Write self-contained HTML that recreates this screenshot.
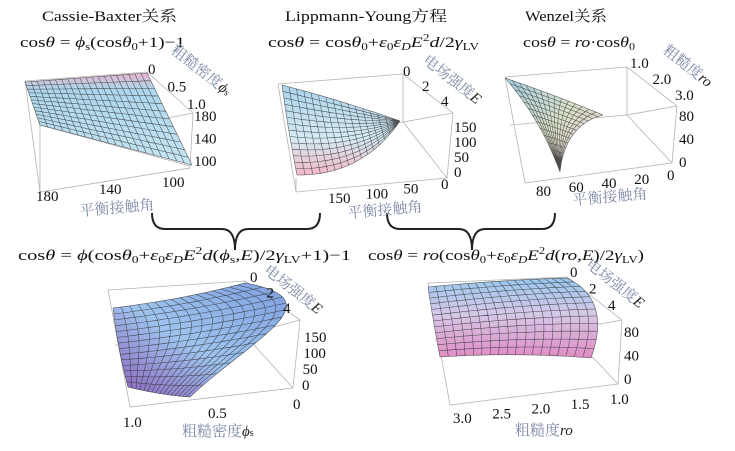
<!DOCTYPE html>
<html><head><meta charset="utf-8"><style>
html,body{margin:0;padding:0;background:#fff;}
svg{display:block;}
.t{font-family:"Liberation Serif","Noto Serif CJK SC",serif;fill:#111;}
.tk{font-family:"Liberation Serif",serif;font-size:15px;fill:#111;}
.al{font-family:"Liberation Serif","Noto Serif CJK SC",serif;font-size:15px;fill:#7d8aa6;}
.box{stroke:#b4b4b4;stroke-width:0.8;fill:none;}
.grid{stroke:#2a2a2a;stroke-width:0.55;fill:none;opacity:0.8;}
</style></head><body>
<svg id="fig" width="735" height="451" viewBox="0 0 735 451">
<defs>
<linearGradient id="g1" x1="0" y1="0" x2="0" y2="1"><stop offset="0" stop-color="#e8b4d0"/><stop offset="0.18" stop-color="#add6ec"/><stop offset="1" stop-color="#c6e6f4"/></linearGradient>
<linearGradient id="g2" x1="0" y1="0" x2="0" y2="1"><stop offset="0" stop-color="#a9d3ea"/><stop offset="0.6" stop-color="#d6ebf4"/><stop offset="1" stop-color="#f2b8c8"/></linearGradient>
<linearGradient id="g3" x1="0" y1="0" x2="1" y2="1"><stop offset="0" stop-color="#a4cfe6"/><stop offset="0.5" stop-color="#d8e0c8"/><stop offset="1" stop-color="#f0c4d4"/></linearGradient>
<linearGradient id="g4" x1="1" y1="0" x2="0" y2="1"><stop offset="0" stop-color="#7f9fe0"/><stop offset="0.55" stop-color="#9ec4ee"/><stop offset="1" stop-color="#8a5cb8"/></linearGradient>
<linearGradient id="g5" x1="0" y1="0" x2="0" y2="1"><stop offset="0" stop-color="#98c8ee"/><stop offset="0.45" stop-color="#d6c8e8"/><stop offset="1" stop-color="#e08cc4"/></linearGradient>
</defs>

<text class="t" x="42" y="21" font-size="15" textLength="135" lengthAdjust="spacingAndGlyphs">Cassie-Baxter关系</text>
<text class="t" x="285" y="21" font-size="15" textLength="162" lengthAdjust="spacingAndGlyphs">Lippmann-Young方程</text>
<text class="t" x="525" y="21" font-size="15" textLength="82" lengthAdjust="spacingAndGlyphs">Wenzel关系</text>

<text class="t" x="20" y="47" font-size="15" textLength="165" lengthAdjust="spacingAndGlyphs">cos<tspan font-style="italic">θ</tspan> = <tspan font-style="italic">ϕ</tspan><tspan font-size="10" dy="3">s</tspan><tspan dy="-3">(cos</tspan><tspan font-style="italic">θ</tspan><tspan font-size="10" dy="3">0</tspan><tspan dy="-3">+1)−1</tspan></text>
<text class="t" x="268" y="47" font-size="15" textLength="211" lengthAdjust="spacingAndGlyphs">cos<tspan font-style="italic">θ</tspan> = cos<tspan font-style="italic">θ</tspan><tspan font-size="10" dy="3">0</tspan><tspan dy="-3">+</tspan><tspan font-style="italic">ε</tspan><tspan font-size="10" dy="3">0</tspan><tspan dy="-3" font-style="italic">ε</tspan><tspan font-size="10" dy="3" font-style="italic">D</tspan><tspan dy="-3" font-style="italic">E</tspan><tspan font-size="10" dy="-6">2</tspan><tspan dy="6" font-style="italic">d</tspan>/2<tspan font-style="italic">γ</tspan><tspan font-size="10" dy="3">LV</tspan></text>
<text class="t" x="523" y="47" font-size="15" textLength="112" lengthAdjust="spacingAndGlyphs">cos<tspan font-style="italic">θ</tspan> = <tspan font-style="italic">ro</tspan>·cos<tspan font-style="italic">θ</tspan><tspan font-size="10" dy="3">0</tspan></text>
<text class="t" x="18" y="260" font-size="15" textLength="333" lengthAdjust="spacingAndGlyphs">cos<tspan font-style="italic">θ</tspan> = <tspan font-style="italic">ϕ</tspan>(cos<tspan font-style="italic">θ</tspan><tspan font-size="10" dy="3">0</tspan><tspan dy="-3">+</tspan><tspan font-style="italic">ε</tspan><tspan font-size="10" dy="3">0</tspan><tspan dy="-3" font-style="italic">ε</tspan><tspan font-size="10" dy="3" font-style="italic">D</tspan><tspan dy="-3" font-style="italic">E</tspan><tspan font-size="10" dy="-6">2</tspan><tspan dy="6" font-style="italic">d</tspan>(<tspan font-style="italic">ϕ</tspan><tspan font-size="10" dy="3">s</tspan><tspan dy="-3">,</tspan><tspan font-style="italic">E</tspan>)/2<tspan font-style="italic">γ</tspan><tspan font-size="10" dy="3">LV</tspan><tspan dy="-3">+1)−1</tspan></text>
<text class="t" x="368" y="260" font-size="15" textLength="276" lengthAdjust="spacingAndGlyphs">cos<tspan font-style="italic">θ</tspan> = <tspan font-style="italic">ro</tspan>(cos<tspan font-style="italic">θ</tspan><tspan font-size="10" dy="3">0</tspan><tspan dy="-3">+</tspan><tspan font-style="italic">ε</tspan><tspan font-size="10" dy="3">0</tspan><tspan dy="-3" font-style="italic">ε</tspan><tspan font-size="10" dy="3" font-style="italic">D</tspan><tspan dy="-3" font-style="italic">E</tspan><tspan font-size="10" dy="-6">2</tspan><tspan dy="6" font-style="italic">d</tspan>(<tspan font-style="italic">ro</tspan>,<tspan font-style="italic">E</tspan>)/2<tspan font-style="italic">γ</tspan><tspan font-size="10" dy="3">LV</tspan><tspan dy="-3">)</tspan></text>

<path d="M152,213 Q152,229 165,229 L222,229 Q235,229 235,250 Q235,229 248,229 L307,229 Q320,229 320,213" stroke="#222" stroke-width="2" fill="none"/>
<path d="M387,213 Q387,229 400,229 L459,229 Q472,229 472,250 Q472,229 485,229 L542,229 Q555,229 555,213" stroke="#222" stroke-width="2" fill="none"/>

<g id="surfaces"></g>

<text class="al" x="80" y="216" transform="rotate(-5 80 216)">平衡接触角</text>
<text class="al" x="170" y="52" transform="rotate(38 170 52)">粗糙密度<tspan font-style="italic" fill="#222">ϕ</tspan><tspan font-size="10" fill="#222">s</tspan></text>
<text class="al" x="348" y="218" transform="rotate(-5 348 218)">平衡接触角</text>
<text class="al" x="422" y="62" transform="rotate(38 422 62)">电场强度<tspan font-style="italic" fill="#222">E</tspan></text>
<text class="al" x="573" y="205" transform="rotate(-5 573 205)">平衡接触角</text>
<text class="al" x="662" y="52" transform="rotate(38 662 52)">粗糙度<tspan font-style="italic" fill="#222">ro</tspan></text>
<text class="al" x="182" y="436">粗糙密度<tspan font-style="italic" fill="#222">ϕ</tspan><tspan font-size="10" fill="#222">s</tspan></text>
<text class="al" x="263" y="272" transform="rotate(38 263 272)">电场强度<tspan font-style="italic" fill="#222">E</tspan></text>
<text class="al" x="515" y="435">粗糙度<tspan font-style="italic" fill="#222">ro</tspan></text>
<text class="al" x="585" y="266" transform="rotate(38 585 266)">电场强度<tspan font-style="italic" fill="#222">E</tspan></text>
</svg>
<script>
// tick label data
const p1X=["180","140","100"], p1Y=["0","0.5","1.0"], p1Z=["180","140","100"];
const p2X=["150","100","50","0"], p2Y=["0","2","4"], p2Z=["150","100","50","0"];
const p3X=["80","60","40","20","0"], p3Y=["1.0","2.0","3.0"], p3Z=["80","40","0"];
const p4X=["1.0","0.5","0"], p4Y=["0","2","4"], p4Z=["150","100","50","0"];
const p5X=["3.0","2.5","2.0","1.5","1.0"], p5Y=["0","2","4"], p5Z=["80","40","0"];

const NS="http://www.w3.org/2000/svg";
const root=document.getElementById('surfaces');
function mk(tag,attrs,parent){const e=document.createElementNS(NS,tag);for(const k in attrs)e.setAttribute(k,attrs[k]);(parent||root).appendChild(e);return e;}
function bz(e,t){const s=1-t;
 if(e.length===4){const w=[s*s*s,3*s*s*t,3*s*t*t,t*t*t];return [0,1].map(i=>w[0]*e[0][i]+w[1]*e[1][i]+w[2]*e[2][i]+w[3]*e[3][i]);}
 const a=e[0],c=e[1],b=e[2];return [s*s*a[0]+2*s*t*c[0]+t*t*b[0], s*s*a[1]+2*s*t*c[1]+t*t*b[1]];}
function coons(P,u,v){const T=bz(P.top,u),B=bz(P.bot,u),L=bz(P.left,v),R=bz(P.right,v);
 const c00=P.top[0],c10=P.top[P.top.length-1],c01=P.bot[0],c11=P.bot[P.bot.length-1];
 return [0,1].map(i=>(1-v)*T[i]+v*B[i]+(1-u)*L[i]+u*R[i]-((1-u)*(1-v)*c00[i]+u*(1-v)*c10[i]+(1-u)*v*c01[i]+u*v*c11[i]));}
function pathOf(P){let d='';const n=40;
 for(let i=0;i<=n;i++){const p=coons(P,i/n,0);d+=(i?'L':'M')+p[0].toFixed(1)+','+p[1].toFixed(1);}
 for(let i=0;i<=n;i++){const p=coons(P,1,i/n);d+='L'+p[0].toFixed(1)+','+p[1].toFixed(1);}
 for(let i=n;i>=0;i--){const p=coons(P,i/n,1);d+='L'+p[0].toFixed(1)+','+p[1].toFixed(1);}
 for(let i=n;i>=0;i--){const p=coons(P,0,i/n);d+='L'+p[0].toFixed(1)+','+p[1].toFixed(1);}
 return d+'Z';}
function surface(name,P,nu,nv,fill){
 const g=mk('g',{});
 
 
 mk('path',{d:pathOf(P),fill:fill,stroke:'none'},g);
 let d='';
 for(let i=0;i<=nu;i++){for(let j=0;j<=20;j++){const p=coons(P,i/nu,j/20);d+=(j?'L':'M')+p[0].toFixed(1)+','+p[1].toFixed(1);}}
 for(let j=0;j<=nv;j++){for(let i=0;i<=20;i++){const p=coons(P,i/20,j/nv);d+=(i?'L':'M')+p[0].toFixed(1)+','+p[1].toFixed(1);}}
 mk('path',{d:d,class:'grid'},g);
}
function box(name,pts){const g=mk('g',{});
 
 
 pts.forEach(s=>mk('path',{d:s,class:'box'},g));}
function ticks(name,labels,x0,y0,x1,y1,anchor){
 const g=mk('g',{});
 
 
 const n=labels.length;
 labels.forEach((l,i)=>{const t=n>1?i/(n-1):0;
  const e=mk('text',{x:x0+(x1-x0)*t,y:y0+(y1-y0)*t,class:'tk','text-anchor':anchor||'start'},g);
  
  
  e.textContent=l;});
}
const m=(a,b)=>[(a[0]+b[0])/2,(a[1]+b[1])/2];
// Panel 1
box('box-p1',['M25,81 L147,72 L193,113 L190,168 L40,192 L25,81','M25,81 L40,125 M40,192 L40,125 L190,166','M147,72 L147,122 L193,113 M147,122 L40,125']);
surface('surface-cassie',{top:[[25,82],m([25,82],[147,73]),[147,73]],bot:[[40,125],m([40,125],[192,165]),[192,165]],left:[[25,82],m([25,82],[40,125]),[40,125]],right:[[147,73],m([147,73],[192,165]),[192,165]]},20,12,'url(#g1)');
ticks('p1-x-ticks',p1X,36,201,162,187,'start');
ticks('p1-y-ticks',p1Y,148,74,187,109);
ticks('p1-z-ticks',p1Z,194,121,194,166);
// Panel 2
box('box-p2',['M278,84 L403,74 L453,113 L447,178 L296,192 L278,84','M296,192 L296,178 M403,74 L403,122 L453,113 M403,122 L296,136 M403,122 L447,178']);
surface('surface-lippmann',{top:[[282,85],[340,100],[400,121]],bot:[[297,175],[362,176],[400,121]],left:[[282,85],[288,130],[297,175]],right:[[400,121],[400,121],[400,121]]},16,14,'url(#g2)');
ticks('p2-x-ticks',p2X,328,203,441,189,'start');
ticks('p2-y-ticks',p2Y,403,76,441,106);
ticks('p2-z-ticks',p2Z,454,132,454,177);
// Panel 3
box('box-p3',['M505,77 L627,67 L677,106 L672,163 L525,183 L505,77','M627,67 L627,115 L677,106 M627,115 L510,125 M627,115 L672,163']);
surface('surface-wenzel',{top:[[505,78],[555,95],[603,115]],bot:[[560,172],[560,172],[560,172]],left:[[505,78],[540,118],[560,172]],right:[[603,115],[565,125],[560,172]]},14,14,'url(#g3)');
ticks('p3-x-ticks',p3X,536,196,667,180,'start');
ticks('p3-y-ticks',p3Y,630,68,675,100);
ticks('p3-z-ticks',p3Z,679,121,679,167);
// Panel 4
box('box-p4',['M108,290 L245,281 L300,320 L293,388 L130,407 L108,290','M245,281 L245,335 L300,320 M245,335 L115,345 M245,335 L293,388']);
surface('surface-combined-cassie',{top:[[113,308],[180,300],[245,283]],bot:[[128,387],[160,395],[190,397]],left:[[113,308],[118,350],[128,387]],right:[[245,283],[340,300],[250,340],[190,397]]},16,14,'url(#g4)');
ticks('p4-x-ticks',p4X,123,427,293,409,'start');
ticks('p4-y-ticks',p4Y,250,282,283,313);
ticks('p4-z-ticks',p4Z,304,342,302,390);
// Panel 5
box('box-p5',['M428,283 L567,277 L622,320 L618,384 L450,405 L428,283','M567,277 L567,330 L622,320 M567,330 L435,340 M567,330 L618,384']);
surface('surface-combined-wenzel',{top:[[428,287],[500,280],[567,278]],bot:[[440,357],[515,352],[591,358]],left:[[428,287],[433,320],[440,357]],right:[[567,278],[612,300],[591,358]]},18,12,'url(#g5)');
ticks('p5-x-ticks',p5X,453,423,610,404,'start');
ticks('p5-y-ticks',p5Y,570,277,608,310);
ticks('p5-z-ticks',p5Z,624,337,624,384);
</script>
</body></html>
